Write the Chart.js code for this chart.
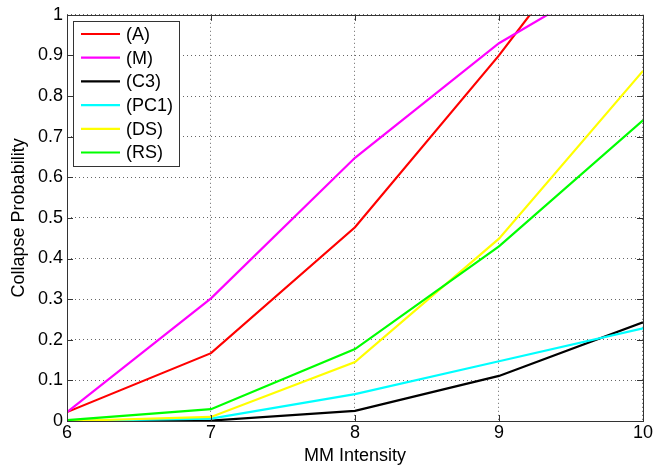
<!DOCTYPE html>
<html>
<head>
<meta charset="utf-8">
<script src="https://cdn.jsdelivr.net/npm/chart.js@4/dist/chart.umd.min.js"></script>
<style>
  html, body { margin: 0; padding: 0; background: #fff; }
  #wrap { width: 654px; height: 467px; }
</style>
</head>
<body>
<div id="wrap"><canvas id="myChart" width="654" height="467"></canvas></div>
<script>
// data
const intensity = [6, 7, 8, 9, 10];
const seriesNames = ["(A)", "(M)", "(C3)", "(PC1)", "(DS)", "(RS)"];
const seriesColors = ["#ff0000", "#ff00ff", "#000000", "#00ffff", "#ffff00", "#00ff00"];

const valA   = [0.022, 0.167, 0.477, 0.900, 1.365];
const valM   = [0.022, 0.302, 0.648, 0.930, 1.138];
const valC3  = [0.000, 0.001, 0.025, 0.111, 0.243];
const valPC1 = [0.000, 0.006, 0.066, 0.147, 0.228];
const valDS  = [0.000, 0.010, 0.145, 0.449, 0.862];
const valRS  = [0.002, 0.029, 0.177, 0.430, 0.740];

const yTickLabels = ["0", "0.1", "0.2", "0.3", "0.4", "0.5", "0.6", "0.7", "0.8", "0.9", "1"];
const xTickLabels = ["6", "7", "8", "9", "10"];

const allValues = [valA, valM, valC3, valPC1, valDS, valRS];

const FONT = "'Liberation Sans', Arial, sans-serif";

function toPoints(vals) {
  return vals.map(function (v, i) { return { x: intensity[i], y: v }; });
}

const datasets = allValues.map(function (vals, i) {
  return {
    label: seriesNames[i],
    data: toPoints(vals),
    borderColor: seriesColors[i],
    backgroundColor: seriesColors[i],
    borderWidth: 2.2,
    pointRadius: 0,
    tension: 0,
    clip: 0,
    order: allValues.length - i   // later series on top, like matlab
  };
});

// box, inward tick marks and legend drawn like matlab
const matlabBox = {
  id: "matlabBox",
  afterDraw(chart) {
    const ctx = chart.ctx;
    const a = chart.chartArea;
    const xs = chart.scales.x;
    const ys = chart.scales.y;
    ctx.save();
    ctx.strokeStyle = "#333";
    ctx.lineWidth = 1;
    ctx.strokeRect(Math.round(a.left) + 0.5, Math.round(a.top) + 0.5,
      Math.round(a.right - a.left), Math.round(a.bottom - a.top));
    ctx.beginPath();
    intensity.forEach(function (v) {
      const px = Math.round(xs.getPixelForValue(v)) + 0.5;
      ctx.moveTo(px, a.bottom); ctx.lineTo(px, a.bottom - 6);
      ctx.moveTo(px, a.top); ctx.lineTo(px, a.top + 6);
    });
    yTickLabels.forEach(function (t) {
      const py = Math.round(ys.getPixelForValue(parseFloat(t))) + 0.5;
      ctx.moveTo(a.left, py); ctx.lineTo(a.left + 6, py);
      ctx.moveTo(a.right, py); ctx.lineTo(a.right - 6, py);
    });
    ctx.stroke();

    // legend
    const bx = 73.5, by = 21.5, bw = 106, bh = 145;
    ctx.fillStyle = "#fff";
    ctx.fillRect(bx, by, bw, bh);
    ctx.strokeStyle = "#333";
    ctx.strokeRect(bx, by, bw, bh);
    ctx.font = "18px " + FONT;
    ctx.textBaseline = "middle";
    chart.data.datasets.forEach(function (ds, i) {
      const ry = 34 + i * 23.7;
      ctx.strokeStyle = ds.borderColor;
      ctx.lineWidth = 2.2;
      ctx.beginPath();
      ctx.moveTo(81, ry); ctx.lineTo(120, ry);
      ctx.stroke();
      ctx.fillStyle = "#000";
      ctx.fillText(ds.label, 126, ry + 1);
    });
    ctx.restore();
  }
};

const ctx = document.getElementById("myChart").getContext("2d");
const myChart = new Chart(ctx, {
  type: "line",
  data: { datasets: datasets },
  options: {
    responsive: false,
    animation: false,
    layout: { padding: { left: 0, right: 11, top: 14, bottom: 0 } },
    plugins: { legend: { display: false }, tooltip: { enabled: false } },
    scales: {
      x: {
        type: "linear",
        min: 6,
        max: 10,
        afterFit(scale) { scale.height = 46; },
        afterBuildTicks(scale) {
          scale.ticks = xTickLabels.map(function (t) { return { value: parseFloat(t) }; });
        },
        ticks: {
          color: "#000",
          font: { family: FONT, size: 18 },
          padding: 1,
          maxRotation: 0,
          callback: function (v) { return String(v); }
        },
        grid: {
          color: "#666",
          lineWidth: 1,
          drawTicks: false
        },
        border: { display: false, dash: [1, 3] },
        title: {
          display: true,
          text: "MM Intensity",
          color: "#000",
          font: { family: FONT, size: 18 },
          padding: { top: 0, bottom: 0 }
        }
      },
      y: {
        min: 0,
        max: 1,
        afterFit(scale) { scale.width = 67; },
        afterBuildTicks(scale) {
          scale.ticks = yTickLabels.map(function (t) { return { value: parseFloat(t) }; });
        },
        ticks: {
          color: "#000",
          font: { family: FONT, size: 18 },
          padding: 4,
          callback: function (v, i) { return yTickLabels[i]; }
        },
        grid: {
          color: "#666",
          lineWidth: 1,
          drawTicks: false
        },
        border: { display: false, dash: [1, 3] },
        title: {
          display: true,
          text: "Collapse Probability",
          color: "#000",
          font: { family: FONT, size: 18 },
          padding: { top: 8, bottom: 0 }
        }
      }
    }
  },
  plugins: [matlabBox]
});
</script>
</body>
</html>
